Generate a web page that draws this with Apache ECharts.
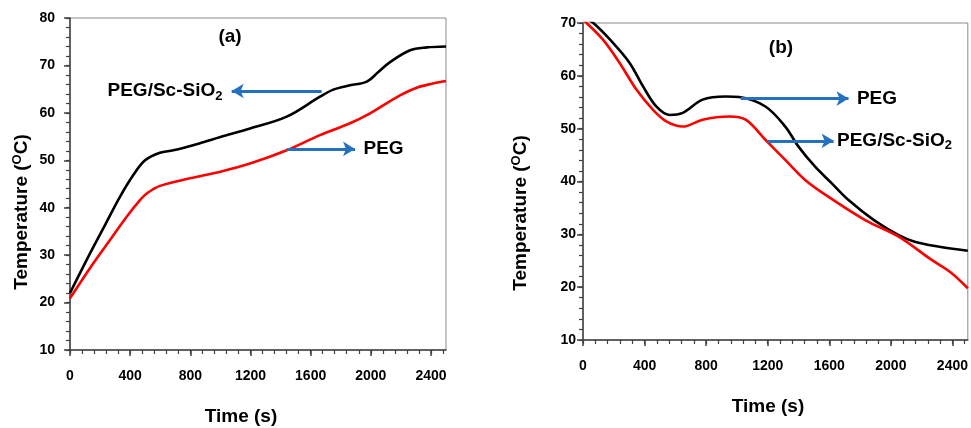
<!DOCTYPE html>
<html><head><meta charset="utf-8">
<script src="https://cdn.jsdelivr.net/npm/echarts@6/dist/echarts.min.js"></script>
<style>html,body{margin:0;padding:0;background:#fff}#c{width:971px;height:428px}</style>
</head><body><div id="c"></div>
<script>
// ---- data ----
// Panel (a): heating
const timeA_comp = [0, 111, 222, 332, 421, 499, 598, 687, 864, 1000, 1197, 1441, 1662, 1751, 1862, 1973, 2050, 2128, 2261, 2372, 2500];
const tempA_comp = [22.0, 29.0, 35.7, 42.3, 46.9, 50.0, 51.6, 52.1, 53.6, 54.9, 56.7, 59.2, 63.4, 64.9, 65.8, 66.6, 68.6, 70.7, 73.2, 73.8, 74.0];
const timeA_peg = [0, 155, 266, 377, 465, 510, 598, 798, 1000, 1197, 1441, 1662, 1862, 1973, 2194, 2305, 2400, 2500];
const tempA_peg = [20.9, 28.3, 33.2, 38.1, 41.6, 43.0, 44.6, 46.2, 47.6, 49.3, 52.1, 55.3, 57.8, 59.5, 63.7, 65.3, 66.1, 66.7];
// Panel (b): cooling
const timeB_peg = [0, 67, 196, 304, 390, 476, 562, 648, 777, 928, 1014, 1185, 1314, 1400, 1508, 1615, 1725, 1890, 2048, 2155, 2306, 2500];
const tempB_peg = [71.0, 70.0, 66.2, 62.4, 58.0, 54.2, 52.6, 53.0, 55.5, 56.1, 56.0, 54.2, 50.4, 46.6, 42.8, 39.7, 36.5, 32.7, 29.9, 28.6, 27.7, 26.9];
const timeB_comp = [0, 24, 131, 239, 347, 454, 541, 648, 777, 950, 1057, 1185, 1314, 1443, 1600, 1833, 2048, 2263, 2393, 2500];
const tempB_comp = [70.6, 70.0, 66.8, 62.4, 57.4, 53.6, 51.4, 50.4, 51.7, 52.3, 51.7, 47.9, 44.1, 40.3, 37.0, 32.7, 29.6, 25.2, 22.7, 19.8];
// ticks
const xTickLabels = [0, 400, 800, 1200, 1600, 2000, 2400];
const yTicksA = [10, 20, 30, 40, 50, 60, 70, 80];
const yTicksB = [10, 20, 30, 40, 50, 60, 70];
// annotation anchors [time, temp]
const arrowA_comp = [[1673, 64.6], [1075, 64.6]];
const labelA_comp = [1017, 64.6];
const arrowA_peg = [[1441, 52.4], [1895, 52.4]];
const labelA_peg = [1948, 52.4];
const arrowB_peg = [[1025, 55.7], [1725, 55.7]];
const labelB_peg = [1776, 55.7];
const arrowB_comp = [[1197, 47.7], [1628, 47.7]];
const labelB_comp = [1647, 47.7];

const FONT = '"Liberation Sans", Arial, sans-serif';
const BLUE = '#2472bf';
const zip = (a, b) => a.map((v, i) => [v, b[i]]);
function minorVals(min, max, step) { const r = []; for (let v = min; v <= max + 1e-9; v += step) r.push(v); return r; }

const rich = {
  sub: { fontSize: 13, fontWeight: 'bold', fontFamily: FONT, color: '#000', padding: [10, 0, 0, 0] },
  sup: { fontSize: 13, fontWeight: 'bold', fontFamily: FONT, color: '#000', padding: [0, 0, 9, 0] }
};
const labelStyle = { fontSize: 14, fontWeight: 'bold', fontFamily: FONT, color: '#000', formatter: v => String(v) };

function mainX(gi) {
  return {
    type: 'value', gridIndex: gi, min: 0, max: 2500,
    axisLine: { show: true, lineStyle: { color: '#404040', width: 1.5 } },
    axisTick: { show: true, length: 6, customValues: xTickLabels, lineStyle: { color: '#404040', width: 1.5 } },
    axisLabel: Object.assign({ show: true, customValues: xTickLabels, margin: 19 }, labelStyle),
    splitLine: { show: false }
  };
}
function minorX(gi) {
  return {
    type: 'value', gridIndex: gi, min: 0, max: 2500, position: 'bottom',
    axisLine: { show: false }, axisLabel: { show: false }, splitLine: { show: false },
    axisTick: { show: true, length: 4, customValues: minorVals(0, 2480, 80), lineStyle: { color: '#404040', width: 1.2 } }
  };
}
function mainY(gi, min, max, ticks, margin) {
  return {
    type: 'value', gridIndex: gi, min: min, max: max, interval: 10, position: 'left',
    axisLine: { show: true, lineStyle: { color: '#404040', width: 1.5 } },
    axisTick: { show: true, length: 6, customValues: ticks, lineStyle: { color: '#404040', width: 1.5 } },
    axisLabel: Object.assign({ show: true, customValues: ticks, margin: margin }, labelStyle),
    splitLine: { show: false }
  };
}
function minorY(gi, min, max) {
  return {
    type: 'value', gridIndex: gi, min: min, max: max, position: 'left',
    axisLine: { show: false }, axisLabel: { show: false }, splitLine: { show: false },
    axisTick: { show: true, length: 4, customValues: minorVals(min, max, 2), lineStyle: { color: '#404040', width: 1.2 } }
  };
}
function arrowLine(pts) {
  return {
    silent: true, animation: false, symbol: ['none', 'arrow'], symbolSize: [11, 12],
    label: { show: false },
    lineStyle: { color: BLUE, width: 3, type: 'solid' },
    emphasis: { disabled: true },
    data: [[{ coord: pts[0] }, { coord: pts[1] }]]
  };
}
function textPoint(coord, text, pos) {
  return {
    silent: true, animation: false,
    data: [{ coord: coord, symbol: 'circle', symbolSize: 1, itemStyle: { color: 'rgba(0,0,0,0)' },
      label: { show: true, position: pos, distance: 0, formatter: text, fontSize: 19, fontWeight: 'bold', fontFamily: FONT, color: '#000', rich: rich } }]
  };
}
function lineSeries(xi, yi, data, color, arrow, label, name) {
  return {
    type: 'line', name: name, xAxisIndex: xi, yAxisIndex: yi, data: data,
    smooth: 0.35, showSymbol: false, symbol: 'none', clip: true,
    lineStyle: { color: color, width: 2.6 }, animation: false,
    markLine: arrowLine(arrow), markPoint: label
  };
}

const chart = echarts.init(document.getElementById('c'), null, { renderer: 'canvas' });
const option = {
  backgroundColor: '#fff',
  animation: false,
  grid: [
    { left: 70, top: 18, width: 376, height: 332, show: true, borderColor: '#8a8a8a', borderWidth: 1, containLabel: false },
    { left: 583, top: 23, width: 387, height: 317, show: true, borderColor: '#8a8a8a', borderWidth: 1, containLabel: false }
  ],
  xAxis: [mainX(0), minorX(0), mainX(1), minorX(1)],
  yAxis: [mainY(0, 10, 80, yTicksA, 15), minorY(0, 10, 80), mainY(1, 10, 70, yTicksB, 7), minorY(1, 10, 70)],
  series: [
    lineSeries(0, 0, zip(timeA_comp, tempA_comp), '#000000', arrowA_comp, textPoint(labelA_comp, 'PEG/Sc-SiO{sub|2}', 'left'), 'PEG/Sc-SiO2 (a)'),
    lineSeries(0, 0, zip(timeA_peg, tempA_peg), '#ff0000', arrowA_peg, textPoint(labelA_peg, 'PEG', 'right'), 'PEG (a)'),
    lineSeries(2, 2, zip(timeB_peg, tempB_peg), '#000000', arrowB_peg, textPoint(labelB_peg, 'PEG', 'right'), 'PEG (b)'),
    lineSeries(2, 2, zip(timeB_comp, tempB_comp), '#ff0000', arrowB_comp, textPoint(labelB_comp, 'PEG/Sc-SiO{sub|2}', 'right'), 'PEG/Sc-SiO2 (b)')
  ],
  graphic: [
    { type: 'text', x: 230, y: 37, silent: true, style: { text: '(a)', align: 'center', verticalAlign: 'middle', font: 'bold 19px ' + FONT, fill: '#000' } },
    { type: 'text', x: 781, y: 48, silent: true, style: { text: '(b)', align: 'center', verticalAlign: 'middle', font: 'bold 19px ' + FONT, fill: '#000' } },
    { type: 'text', x: 241, y: 417, silent: true, style: { text: 'Time (s)', align: 'center', verticalAlign: 'middle', font: 'bold 19px ' + FONT, fill: '#000' } },
    { type: 'text', x: 768, y: 407, silent: true, style: { text: 'Time (s)', align: 'center', verticalAlign: 'middle', font: 'bold 19px ' + FONT, fill: '#000' } },
    { type: 'text', x: 22, y: 212, rotation: Math.PI / 2, silent: true,
      style: { text: 'Temperature ({sup|O}C)', align: 'center', verticalAlign: 'middle', font: 'bold 19px ' + FONT, fill: '#000', rich: rich } },
    { type: 'text', x: 521, y: 213, rotation: Math.PI / 2, silent: true,
      style: { text: 'Temperature ({sup|O}C)', align: 'center', verticalAlign: 'middle', font: 'bold 19px ' + FONT, fill: '#000', rich: rich } }
  ]
};
chart.setOption(option);
</script>
</body></html>
